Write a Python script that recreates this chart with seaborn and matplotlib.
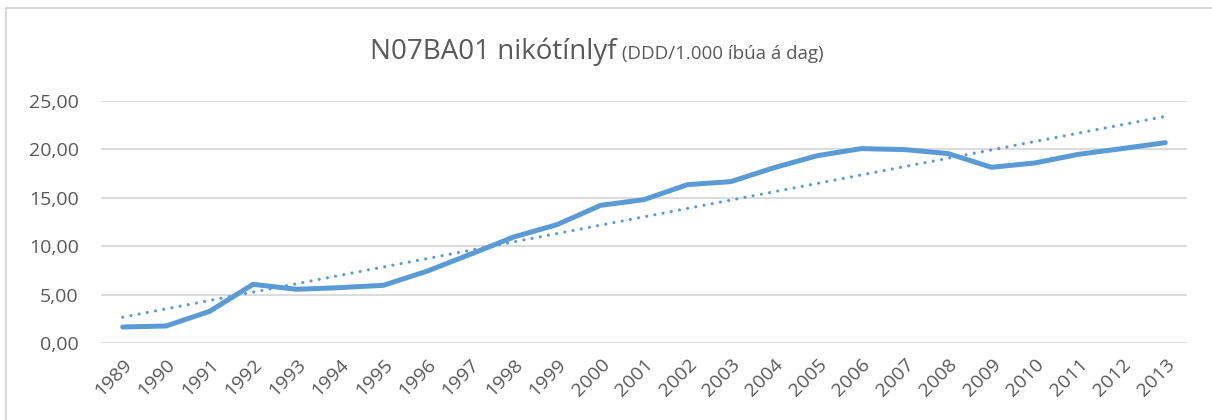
import pandas as pd
import matplotlib.pyplot as plt
import matplotlib.ticker as mticker
from matplotlib.patches import Rectangle
import seaborn as sns

# values
years = [1989, 1990, 1991, 1992, 1993, 1994, 1995, 1996, 1997, 1998, 1999, 2000,
         2001, 2002, 2003, 2004, 2005, 2006, 2007, 2008, 2009, 2010, 2011, 2012, 2013]
ddd = [1.65, 1.76, 3.27, 6.06, 5.55, 5.72, 5.96, 7.41, 9.16, 10.95, 12.23, 14.22,
       14.81, 16.36, 16.67, 18.12, 19.36, 20.08, 19.98, 19.57, 18.15, 18.60, 19.49, 20.08, 20.70]
title_main = 'N07BA01 nikótínlyf'
title_unit = ' (DDD/1.000 íbúa á dag)'

df = pd.DataFrame({'idx': range(len(years)), 'year': years, 'ddd': ddd})

sns.set_style('white')
plt.rcParams['font.family'] = ['Open Sans', 'DejaVu Sans']

blue = '#5B9BD5'
grey = '#595959'

fig = plt.figure(figsize=(12.12, 4.2), dpi=100)
ax = fig.add_axes([101 / 1212, 1 - 343 / 420, (1187 - 101) / 1212, (343 - 101) / 420])

sns.lineplot(data=df, x='idx', y='ddd', ax=ax, color=blue, linewidth=3.6,
             solid_capstyle='round', clip_on=False, zorder=3)
# linear trendline, dotted
sns.regplot(data=df, x='idx', y='ddd', ax=ax, scatter=False, ci=None, truncate=True,
            line_kws={'color': blue, 'linestyle': (0, (0.01, 2.6)), 'linewidth': 2.3,
                      'dash_capstyle': 'round', 'clip_on': False, 'zorder': 2})

ax.set_xlim(-0.5, len(years) - 0.5)
ax.set_ylim(0, 25)
ax.set_yticks([0, 5, 10, 15, 20, 25])
ax.yaxis.set_major_formatter(mticker.FuncFormatter(lambda v, p: f'{v:.2f}'.replace('.', ',')))
ax.set_xticks(df['idx'])
ax.set_xticklabels(years, rotation=45, ha='right', rotation_mode='anchor')
ax.tick_params(axis='both', length=0, labelsize=14, labelcolor=grey)
ax.tick_params(axis='y', pad=16)
ax.tick_params(axis='x', pad=9)
ax.set_xlabel('')
ax.set_ylabel('')
ax.grid(axis='y', color='#D9D9D9', linewidth=1.3)
ax.grid(axis='x', visible=False)
for s in ax.spines.values():
    s.set_visible(False)

# two-size title, like the original
t1 = fig.text(370 / 1212, 1 - 59 / 420, title_main, fontsize=20, color=grey, va='baseline')
fig.canvas.draw()
bb = t1.get_window_extent()
fig.text(bb.x1 / fig.bbox.width, 1 - 59 / 420, title_unit, fontsize=13.5, color=grey, va='baseline')

# light chart border (runs off the right and bottom edges)
fig.patches.append(Rectangle((6 / 1212, -0.05), 1.2, 1 - 8 / 420 + 0.05, transform=fig.transFigure,
                             fill=False, edgecolor='#D9D9D9', linewidth=1.5))

fig.savefig('out.png', dpi=100, facecolor='white')
